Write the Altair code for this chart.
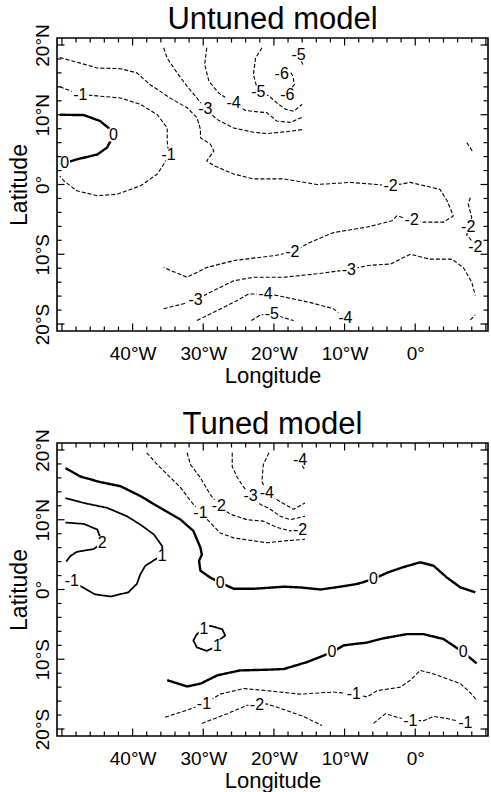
import altair as alt
import pandas as pd

FONT = "Liberation Sans"
PANEL_W, PANEL_H = 431, 293
LON_DOMAIN = [-50.7, 10.3]
LAT_DOMAIN = [-21.0, 21.0]

LON_LABELLED = [-40, -30, -20, -10, 0]
LAT_LABELLED = [-20, -10, 0, 10, 20]
LON_MAJOR = [-50, -40, -30, -20, -10, 0, 10]
LAT_MAJOR = [-20, -10, 0, 10, 20]
LON_MINOR = [v for v in range(-50, 11, 2) if v % 10]
LAT_MINOR = [v for v in range(-20, 21, 2) if v % 10]

STYLES = ["zero", "pos", "neg"]

# ---------------- Untuned model: contour polylines (lon, lat) ----------------
U_ZERO = [(-50.3, 10.0), (-46.9, 9.95), (-44.6, 9.1), (-43.4, 8.1), (-42.7, 7.1),
          (-43.6, 5.3), (-45.0, 4.3), (-47.9, 3.6), (-49.5, 3.1), (-50.3, 2.9)]
U_M1 = [(-50.3, 14.0), (-47.4, 12.9), (-45.0, 12.7), (-41.7, 12.4), (-38.9, 11.5),
        (-36.5, 10.0), (-35.1, 8.1), (-35.1, 6.2), (-34.9, 4.3), (-35.6, 2.9),
        (-36.5, 1.5), (-38.9, -0.2), (-42.2, -1.4), (-45.0, -1.6), (-47.9, -0.9),
        (-49.7, 0.5), (-50.3, 1.2)]
U_M2_MAIN = [(-50.3, 18.2), (-47.4, 17.4), (-45.0, 16.7), (-41.7, 16.6), (-39.4, 16.0),
             (-37.5, 14.3), (-34.7, 12.4), (-32.3, 11.0), (-30.9, 9.6), (-30.4, 7.9),
             (-30.4, 6.7), (-29.0, 5.8), (-28.5, 4.8), (-29.5, 3.4), (-28.5, 2.7),
             (-25.7, 1.5), (-22.9, 0.8), (-18.6, 0.8), (-13.9, 0.0), (-9.2, 0.3),
             (-5.4, 0.0), (-3.5, -0.2), (-0.7, 0.3), (3.5, -0.7), (4.5, -2.3),
             (5.4, -4.5), (4.0, -5.4), (1.2, -5.4), (-0.5, -5.1), (-2.6, -4.5),
             (-3.3, -5.2), (-6.8, -6.1), (-11.6, -6.9), (-14.9, -8.3), (-17.4, -9.7),
             (-20.0, -10.2), (-25.7, -10.9), (-29.5, -11.9), (-32.3, -13.3), (-35.6, -11.9)]
U_M2_EAST = [(7.8, -1.9), (7.5, -2.8), (8.0, -4.7), (7.5, -6.1), (7.3, -7.3),
             (7.8, -7.8), (8.5, -9.0)]
U_M2_NE = [(7.3, 6.0), (8.2, 4.6)]
U_M3_N = [(-35.6, 19.6), (-35.1, 18.1), (-33.7, 16.0), (-32.3, 14.1), (-30.9, 12.4),
          (-29.7, 10.8), (-28.0, 9.3), (-25.7, 8.1), (-22.9, 7.5), (-21.0, 7.3),
          (-18.0, 7.6), (-15.8, 7.9)]
U_M3_S = [(-35.6, -17.8), (-32.8, -17.1), (-31.1, -16.5), (-28.5, -15.2), (-25.7, -13.8),
          (-22.9, -13.3), (-18.6, -13.3), (-13.9, -12.8), (-9.4, -12.2), (-6.6, -11.6),
          (-3.5, -11.4), (-0.7, -10.0), (2.1, -10.7), (5.2, -10.7), (6.8, -11.9),
          (8.0, -14.0), (8.5, -15.9)]
U_M4_N = [(-29.5, 19.6), (-29.8, 17.2), (-29.2, 14.8), (-27.8, 13.1), (-25.7, 11.7),
          (-24.0, 10.6), (-22.2, 10.4), (-21.0, 10.3), (-19.6, 9.1), (-17.7, 8.9),
          (-15.8, 9.7)]
U_M4_S = [(-30.9, -19.5), (-28.5, -18.3), (-25.7, -16.9), (-23.6, -15.7), (-21.2, -15.7),
          (-19.6, -15.9), (-14.9, -16.9), (-11.6, -17.8), (-9.9, -19.2)]
U_M4_SE = [(7.8, -19.4), (8.5, -18.7)]
U_M5_N = [(-21.7, 19.6), (-22.6, 18.1), (-22.9, 15.8), (-22.6, 14.6), (-22.2, 13.2),
          (-20.7, 12.7), (-19.6, 11.7), (-18.4, 10.8), (-17.2, 10.5), (-16.0, 11.5)]
U_M5_NE = [(-16.5, 18.5), (-16.1, 17.6), (-15.8, 17.0)]
U_M5_S = [(-23.2, -19.5), (-21.9, -18.7), (-20.3, -18.5), (-18.9, -19.0), (-17.2, -19.5)]
U_M6 = [(-18.9, 15.9), (-17.9, 16.5), (-17.3, 15.5), (-17.1, 14.3), (-17.7, 13.6),
        (-18.1, 12.9)]

U_LINES = [
    ("u0", "zero", U_ZERO), ("um1", "neg", U_M1), ("um2a", "neg", U_M2_MAIN),
    ("um2b", "neg", U_M2_EAST), ("um2c", "neg", U_M2_NE), ("um3a", "neg", U_M3_N),
    ("um3b", "neg", U_M3_S), ("um4a", "neg", U_M4_N), ("um4b", "neg", U_M4_S),
    ("um4c", "neg", U_M4_SE), ("um5a", "neg", U_M5_N), ("um5b", "neg", U_M5_NE),
    ("um5c", "neg", U_M5_S), ("um6", "neg", U_M6),
]
U_LABELS = [
    (-42.7, 7.1, "0"), (-49.6, 3.1, "0"), (-47.4, 12.9, "-1"), (-34.9, 4.3, "-1"),
    (-3.5, -0.2, "-2"), (-0.5, -5.1, "-2"), (-17.4, -9.7, "-2"), (7.5, -6.1, "-2"),
    (8.5, -9.0, "-2"), (-29.7, 10.8, "-3"), (-31.1, -16.5, "-3"), (-9.4, -12.2, "-3"),
    (-25.7, 11.7, "-4"), (-21.2, -15.7, "-4"), (-9.9, -19.2, "-4"), (-22.2, 13.2, "-5"),
    (-16.5, 18.5, "-5"), (-20.3, -18.5, "-5"), (-18.9, 15.9, "-6"), (-18.1, 12.9, "-6"),
]

# ---------------- Tuned model: contour polylines (lon, lat) ----------------
T_ZERO_N = [(-49.5, 17.4), (-47.4, 16.2), (-44.6, 15.4), (-41.7, 14.8), (-38.9, 13.4),
            (-36.1, 11.7), (-33.2, 10.0), (-31.4, 8.4), (-30.4, 6.0), (-30.2, 5.0),
            (-30.6, 4.1), (-30.4, 2.7), (-29.0, 1.7), (-27.6, 1.0), (-25.7, 0.1),
            (-22.9, 0.1), (-18.6, 0.4), (-16.3, 0.3), (-13.4, 0.0), (-10.6, 0.4),
            (-8.2, 0.8), (-5.9, 1.5), (-4.0, 2.4), (-1.7, 3.2), (0.7, 3.9), (2.6, 3.4),
            (4.5, 1.7), (6.4, 0.3), (8.5, -0.4)]
T_ZERO_S = [(-35.1, -13.0), (-32.3, -13.9), (-30.4, -13.5), (-28.0, -12.3), (-24.8, -11.6),
            (-21.0, -11.5), (-18.6, -11.4), (-15.3, -10.4), (-11.8, -9.0), (-10.1, -8.0),
            (-6.8, -7.6), (-4.5, -7.0), (-1.2, -6.4), (1.2, -6.4), (4.0, -7.1),
            (6.8, -9.0), (8.7, -10.6)]
T_P1 = [(-49.5, 13.1), (-46.9, 12.4), (-43.6, 11.7), (-40.8, 10.5), (-38.9, 9.3),
        (-37.0, 7.9), (-35.8, 6.2), (-35.8, 4.8), (-36.8, 4.3), (-38.2, 3.4),
        (-38.9, 2.2), (-39.4, 0.8), (-40.6, -0.4), (-43.1, -1.0), (-45.3, -0.7),
        (-47.4, 0.5), (-48.6, 1.2), (-49.6, 1.6)]
T_P2 = [(-49.5, 9.6), (-46.9, 9.4), (-45.0, 8.6), (-44.3, 6.7), (-45.5, 5.8),
        (-47.9, 5.4), (-48.8, 4.8), (-49.4, 4.0)]
T_P1_LOOP = [(-29.9, -5.6), (-29.0, -5.2), (-27.3, -5.7), (-26.9, -6.6), (-27.8, -7.3),
             (-28.0, -8.1), (-29.5, -8.8), (-30.9, -8.3), (-31.4, -7.3), (-30.9, -6.4),
             (-29.9, -5.6)]
T_M1_N = [(-38.0, 19.6), (-36.5, 17.9), (-35.1, 16.5), (-33.2, 14.6), (-31.8, 12.7),
          (-30.4, 11.0), (-29.2, 9.8), (-27.6, 8.1), (-25.7, 7.4), (-21.0, 6.7),
          (-18.1, 7.0), (-15.6, 7.2)]
T_M2_N = [(-32.3, 19.6), (-31.8, 17.9), (-30.4, 16.0), (-29.0, 13.6), (-27.8, 12.0),
          (-26.2, 10.8), (-23.8, 10.0), (-21.5, 9.8), (-19.6, 8.9), (-17.7, 8.4),
          (-16.3, 8.6)]
T_M3_N = [(-25.9, 19.6), (-25.9, 17.6), (-25.2, 16.1), (-24.3, 14.7), (-23.3, 13.4),
          (-21.9, 12.2), (-20.5, 11.5), (-19.1, 10.5), (-17.7, 10.0), (-15.6, 10.5)]
T_M4_N = [(-20.7, 19.6), (-21.5, 17.9), (-21.7, 15.5), (-21.0, 13.9), (-19.6, 12.9),
          (-18.1, 12.0), (-17.2, 11.5), (-15.6, 12.4)]
T_M4_NE = [(-16.3, 18.6), (-15.9, 17.6), (-15.6, 17.1)]
T_M1_S = [(-35.4, -18.3), (-32.3, -17.3), (-29.9, -16.4), (-27.6, -15.0), (-24.3, -14.2),
          (-21.0, -14.5), (-16.3, -15.0), (-11.6, -14.7), (-8.7, -15.0), (-6.8, -15.4),
          (-5.4, -14.5), (-2.1, -14.0), (-0.7, -13.0), (0.7, -11.6), (2.6, -12.1),
          (6.4, -13.5), (8.0, -15.0), (8.7, -15.9)]
T_M2_S = [(-30.2, -19.2), (-26.6, -17.8), (-23.8, -16.6), (-22.4, -16.6), (-21.0, -16.4),
          (-18.6, -17.2), (-15.8, -18.2), (-13.2, -19.5)]
T_M1_SE = [(-5.9, -19.2), (-4.2, -17.8), (-2.6, -18.3), (-0.7, -18.8), (1.2, -18.8),
           (2.6, -18.2), (4.5, -18.5), (7.1, -19.1), (8.2, -19.7)]

T_LINES = [
    ("t0a", "zero", T_ZERO_N), ("t0b", "zero", T_ZERO_S), ("tp1", "pos", T_P1),
    ("tp2", "pos", T_P2), ("tp1l", "pos", T_P1_LOOP), ("tm1a", "neg", T_M1_N),
    ("tm2a", "neg", T_M2_N), ("tm3a", "neg", T_M3_N), ("tm4a", "neg", T_M4_N),
    ("tm4b", "neg", T_M4_NE), ("tm1b", "neg", T_M1_S), ("tm2b", "neg", T_M2_S),
    ("tm1c", "neg", T_M1_SE),
]
T_LABELS = [
    (-27.6, 1.0, "0"), (-5.9, 1.5, "0"), (-11.8, -9.0, "0"), (6.8, -9.0, "0"),
    (-35.8, 4.8, "1"), (-48.6, 1.2, "-1"), (-44.3, 6.7, "2"), (-29.9, -5.6, "1"),
    (-28.0, -8.1, "1"), (-30.4, 11.0, "-1"), (-27.8, 12.0, "-2"), (-16.3, 8.6, "-2"),
    (-23.3, 13.4, "-3"), (-21.0, 13.9, "-4"), (-16.3, 18.6, "-4"), (-29.9, -16.4, "-1"),
    (-8.7, -15.0, "-1"), (-22.4, -16.6, "-2"), (-0.7, -18.8, "-1"), (7.1, -19.1, "-1"),
]

LON_LABEL_EXPR = ("datum.value < 0 ? (-datum.value) + '°W' : "
                  "(datum.value > 0 ? datum.value + '°E' : '0°')")
LAT_LABEL_EXPR = ("datum.value < 0 ? (-datum.value) + '°S' : "
                  "(datum.value > 0 ? datum.value + '°N' : '0°')")

lon_scale = alt.Scale(domain=LON_DOMAIN, nice=False, zero=False)
lat_scale = alt.Scale(domain=LAT_DOMAIN, nice=False, zero=False)

x_axis = alt.Axis(values=LON_LABELLED, labelExpr=LON_LABEL_EXPR, ticks=False,
                  domain=False, grid=False, labelFont=FONT, labelFontSize=19,
                  labelColor="black", labelPadding=13, title="Longitude",
                  titleFont=FONT, titleFontSize=22, titleFontWeight="normal",
                  titleColor="black", titlePadding=2)
y_axis = alt.Axis(values=LAT_LABELLED, labelExpr=LAT_LABEL_EXPR, ticks=False,
                  domain=False, grid=False, labelFont=FONT, labelFontSize=19,
                  labelColor="black", labelAngle=270, labelAlign="center",
                  labelBaseline="alphabetic", labelPadding=9, title="Latitude",
                  titleFont=FONT, titleFontSize=23, titleFontWeight="normal",
                  titleColor="black", titlePadding=2)

X = alt.X("lon:Q", scale=lon_scale, axis=x_axis)
Y = alt.Y("lat:Q", scale=lat_scale, axis=y_axis)

WIDE_BOX = "M-1,-0.7L1,-0.7L1,0.7L-1,0.7Z"
NARROW_BOX = "M-0.8,-1L0.8,-1L0.8,1L-0.8,1Z"

MAJOR_LEN, MINOR_LEN = 7.5, 4.5


def frame_ticks():
    """Inward-pointing ticks on all four sides of the panel."""
    layers = []
    for values, length in ((LON_MAJOR, MAJOR_LEN), (LON_MINOR, MINOR_LEN)):
        df = pd.DataFrame({"lon": values})
        base = alt.Chart(df).mark_rule(color="black", strokeWidth=1.2)
        layers.append(base.encode(x=X, y=alt.value(PANEL_H), y2=alt.value(PANEL_H - length)))
        layers.append(base.encode(x=X, y=alt.value(0), y2=alt.value(length)))
    for values, length in ((LAT_MAJOR, MAJOR_LEN), (LAT_MINOR, MINOR_LEN)):
        df = pd.DataFrame({"lat": values})
        base = alt.Chart(df).mark_rule(color="black", strokeWidth=1.2)
        layers.append(base.encode(y=Y, x=alt.value(0), x2=alt.value(length)))
        layers.append(base.encode(y=Y, x=alt.value(PANEL_W), x2=alt.value(PANEL_W - length)))
    return layers


def panel(title, lines, labels):
    rows = []
    for name, style, pts in lines:
        for i, (lon, lat) in enumerate(pts):
            rows.append({"line": name, "style": style, "seq": i, "lon": lon, "lat": lat})
    contours = pd.DataFrame(rows)
    marks = pd.DataFrame(labels, columns=["lon", "lat", "text"])
    narrow = marks[marks["text"].str.len() == 1]
    wide = marks[marks["text"].str.len() > 1]

    contour_layer = alt.Chart(contours).mark_line(
        color="black", clip=True, strokeJoin="round"
    ).encode(
        x=X, y=Y, detail="line:N", order="seq:Q",
        strokeDash=alt.StrokeDash("style:N", legend=None,
                                  scale=alt.Scale(domain=STYLES,
                                                  range=[[1, 0], [1, 0], [4, 2]])),
        strokeWidth=alt.StrokeWidth("style:N", legend=None,
                                    scale=alt.Scale(domain=STYLES, range=[2.4, 1.1, 1.1])),
    )
    narrow_bg = alt.Chart(narrow).mark_point(
        shape=NARROW_BOX, filled=True, color="white", opacity=1, size=170, strokeWidth=0
    ).encode(x=X, y=Y)
    wide_bg = alt.Chart(wide).mark_point(
        shape=WIDE_BOX, filled=True, color="white", opacity=1, size=290, strokeWidth=0
    ).encode(x=X, y=Y)
    text_layer = alt.Chart(marks).mark_text(
        font=FONT, fontSize=16, color="black", align="center", baseline="middle"
    ).encode(x=X, y=Y, text="text:N")

    return alt.layer(
        contour_layer, narrow_bg, wide_bg, text_layer, *frame_ticks()
    ).properties(
        width=PANEL_W, height=PANEL_H,
        title=alt.TitleParams(title, font=FONT, fontSize=31, fontWeight="normal",
                              color="black", offset=-12, anchor="middle", frame="group"),
    )


chart = alt.vconcat(
    panel("Untuned model", U_LINES, U_LABELS),
    panel("Tuned model", T_LINES, T_LABELS),
    spacing=20,
).properties(
    padding={"left": 7, "top": 2, "right": 0, "bottom": 0},
    background="white",
).configure_view(stroke="black", strokeWidth=1.6)

chart.save("out.html", embed_options={"renderer": "svg", "actions": False})
